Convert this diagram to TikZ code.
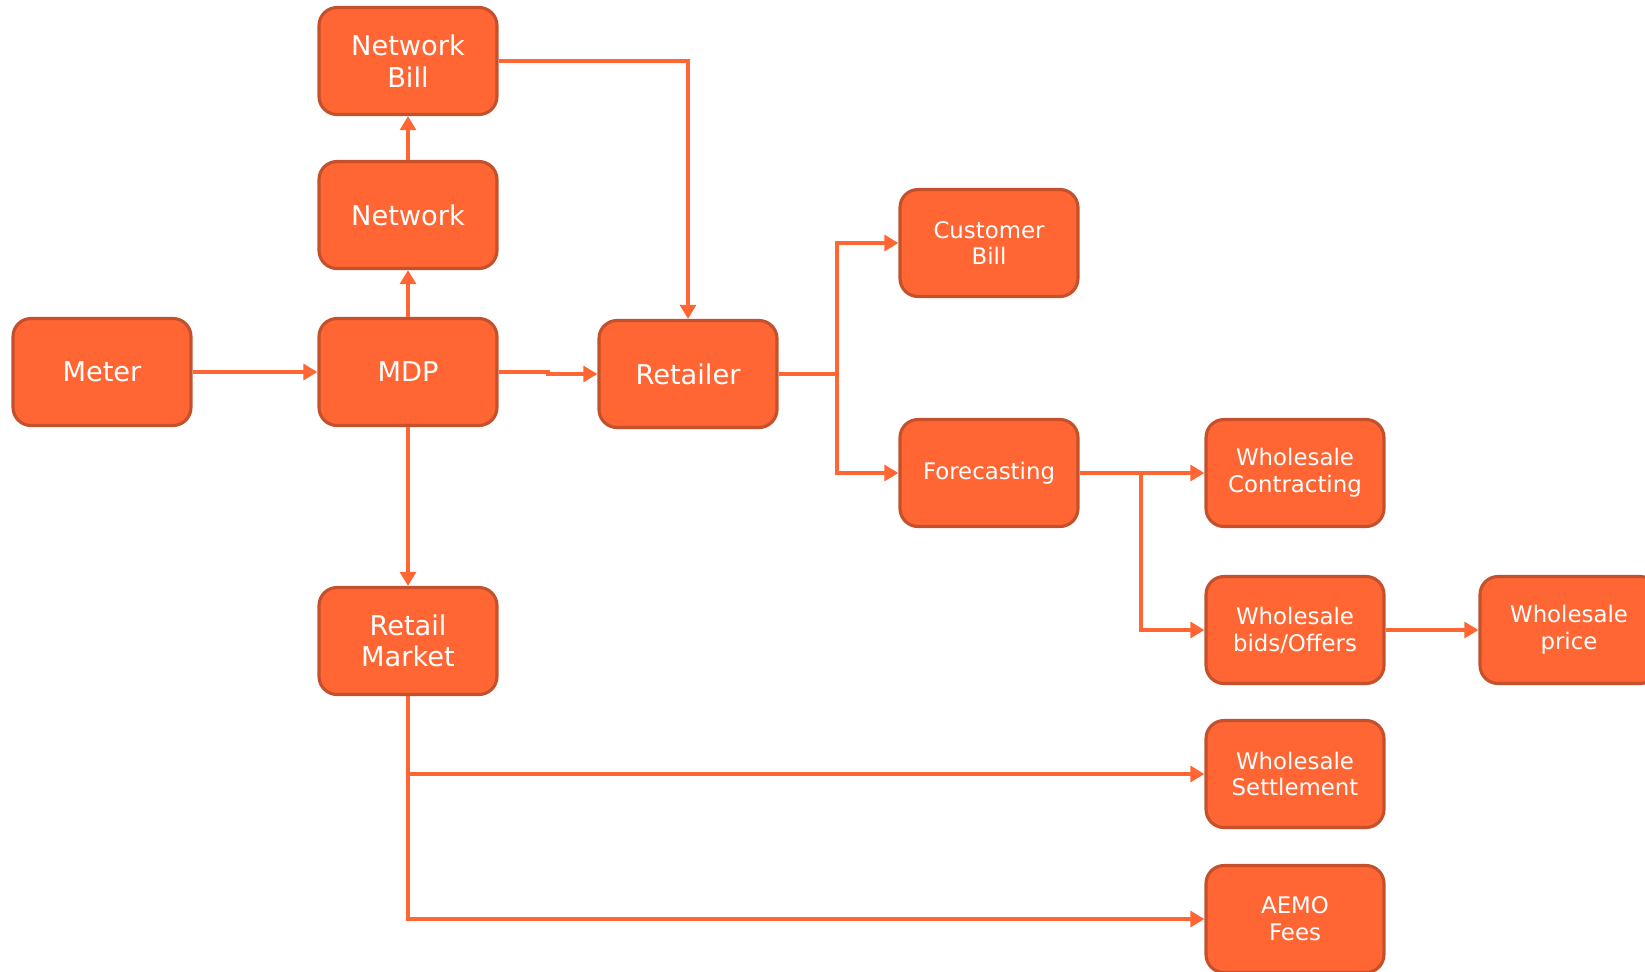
\documentclass[tikz,border=0pt]{standalone}
\usepackage{fontspec}
\setmainfont{DejaVu Sans}
\usetikzlibrary{positioning, arrows.meta}
\definecolor{boxFill}{HTML}{FF6633}
\definecolor{boxEdge}{HTML}{C4512B}
\definecolor{flowLine}{HTML}{FF6633}
\tikzset{
	block/.style={rectangle, rounded corners=0.36cm, minimum width=3.56cm, minimum height=2.14cm, draw=boxEdge, line width=1.8pt, fill=boxFill, text=white, align=center, font=\fontsize{15.5}{18}\selectfont},
	blockSmall/.style={block, font=\fontsize{13}{15.3}\selectfont},
	flow/.style={draw=flowLine, line width=2.2pt, -{Triangle[length=8pt,width=9pt]}},
	flowPlain/.style={draw=flowLine, line width=2.2pt}
}

\begin{document}
\begin{tikzpicture}[x=0.02cm, y=-0.02cm]
\useasboundingbox (0,0) rectangle (1645,971);
\clip (0,0) rectangle (1645,971);
\node[block] (nbill) at (408,61) {Network\\Bill};
\node[block] (network) at (408,215) {Network};
\node[block] (meter) at (102,372) {Meter};
\node[block] (mdp) at (408,372) {MDP};
\node[block] (retailer) at (688,374) {Retailer};
\node[block] (rmarket) at (408,641) {Retail\\Market};
\node[blockSmall] (cbill) at (989,243) {Customer\\Bill};
\node[blockSmall] (forecast) at (989,473) {Forecasting};
\node[blockSmall] (wcontract) at (1295,473) {Wholesale\\Contracting};
\node[blockSmall] (wbids) at (1295,630) {Wholesale\\bids/Offers};
\node[blockSmall] (wprice) at (1569,630) {Wholesale\\price};
\node[blockSmall] (wsettle) at (1295,774) {Wholesale\\Settlement};
\node[blockSmall] (aemo) at (1295,919) {AEMO\\Fees};
\coordinate (mjog) at (548,372);
\coordinate (rjoin) at (837,374);
\coordinate (fjoin) at (1141,473);

\draw [flow] (meter) -- (mdp);
\draw [flow] (mdp) -- (network);
\draw [flow] (network) -- (nbill);
\draw [flow] (nbill) -| (retailer);
\draw [flow] (mdp) -- (mjog) |- (retailer);
\draw [flow] (mdp) -- (rmarket);
\draw [flowPlain] (retailer) -- (rjoin);
\draw [flow] (rjoin) |- (cbill);
\draw [flow] (rjoin) |- (forecast);
\draw [flow] (forecast) -- (wcontract);
\draw [flow] (fjoin) |- (wbids);
\draw [flow] (wbids) -- (wprice);
\draw [flow] (rmarket) |- (wsettle);
\draw [flow] (rmarket) |- (aemo);
\end{tikzpicture}
\end{document}
